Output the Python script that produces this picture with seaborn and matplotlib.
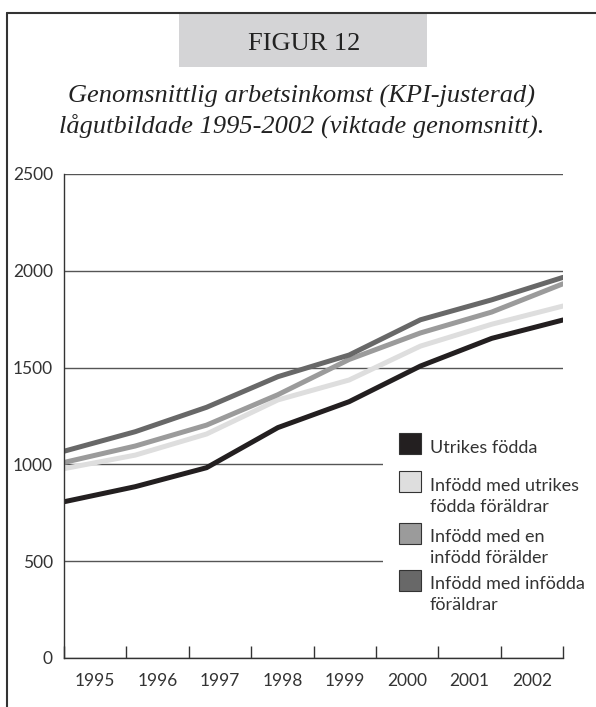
import numpy as np
import pandas as pd
import matplotlib
matplotlib.use("Agg")
import matplotlib.pyplot as plt
import seaborn as sns
from matplotlib.patches import Rectangle
from matplotlib.lines import Line2D

# ---------------- data ----------------
years = ["1995", "1996", "1997", "1998", "1999", "2000", "2001", "2002"]
series_names = [
    "Utrikes födda",
    "Infödd med utrikes\nfödda föräldrar",
    "Infödd med en\ninfödd förälder",
    "Infödd med infödda\nföräldrar",
]
utrikes_fodda = [807, 885, 983, 1190, 1324, 1508, 1651, 1746]
utrikes_foraldrar = [978, 1048, 1157, 1333, 1436, 1611, 1724, 1818]
en_infodd_foralder = [1010, 1095, 1203, 1360, 1542, 1679, 1787, 1933]
infodda_foraldrar = [1068, 1169, 1295, 1453, 1565, 1747, 1850, 1966]
series_colors = ["#231f20", "#dedede", "#9b9b9b", "#686868"]
yticks = [0, 500, 1000, 1500, 2000, 2500]

title_line1 = "Genomsnittlig arbetsinkomst (KPI-justerad)"
title_line2 = "lågutbildade 1995-2002 (viktade genomsnitt)."
header = "FIGUR 12"

values = [utrikes_fodda, utrikes_foraldrar, en_infodd_foralder, infodda_foraldrar]
rows = []
for name, vals in zip(series_names, values):
    for i, v in enumerate(vals):
        rows.append({"pos": i, "year": years[i], "serie": name, "value": v})
df = pd.DataFrame(rows)

# ---------------- figure ----------------
sns.set_theme(style="white")
plt.rcParams["font.family"] = ["Lato", "DejaVu Sans"]
TXT = "#333333"

W, H = 596, 707
fig = plt.figure(figsize=(W / 100, H / 100), dpi=100)


def fx(x):
    return x / W


def fy(y):
    return 1 - y / H


ax_left, ax_right, ax_top, ax_bottom = 64, 563, 174, 658
ax = fig.add_axes([fx(ax_left), fy(ax_bottom), (ax_right - ax_left) / W, (ax_bottom - ax_top) / H])

sns.lineplot(
    data=df, x="pos", y="value", hue="serie", hue_order=series_names,
    palette=dict(zip(series_names, series_colors)), linewidth=3.6,
    legend=False, ax=ax, sort=False,
)

n = len(years)
ax.set_xlim(0, n - 1)
ax.set_ylim(0, 2500)
ax.set_xlabel("")
ax.set_ylabel("")

# y axis
ax.set_yticks(yticks)
ax.set_yticklabels([str(t) for t in yticks])
ax.tick_params(axis="y", length=0, pad=8, labelsize=12.5, labelcolor=TXT)
ax.yaxis.grid(True, color="#555555", linewidth=1.0)
ax.xaxis.grid(False)

# x axis: tick marks at category boundaries, labels in category centres
bounds = np.linspace(0, n - 1, n + 1)
centers = (bounds[:-1] + bounds[1:]) / 2
ax.set_xticks(bounds)
ax.set_xticklabels([""] * len(bounds))
ax.set_xticks(centers, minor=True)
ax.set_xticklabels(years, minor=True)
ax.tick_params(axis="x", which="major", direction="in", length=9, width=1, color="#333333", bottom=True)
ax.tick_params(axis="x", which="minor", length=0, pad=11, labelsize=12.5, labelcolor=TXT, bottom=True)

for s in ["top", "right"]:
    ax.spines[s].set_visible(False)
for s in ["left", "bottom"]:
    ax.spines[s].set_color("#333333")
    ax.spines[s].set_linewidth(1.0)
ax.set_facecolor("white")

# ---------------- legend (manual, white box masking gridlines) ----------------
fig.add_artist(Rectangle((fx(383), fy(622)), (W - 383) / W, (622 - 422) / H,
                         transform=fig.transFigure, facecolor="white", edgecolor="none", zorder=2))
patch_tops = [433, 471, 523, 570]
first_baselines = [453, 491, 542, 589]
line_step = 21
for name, col, ptop, bl in zip(series_names, series_colors, patch_tops, first_baselines):
    fig.add_artist(Rectangle((fx(399), fy(ptop + 21)), 22 / W, 21 / H,
                             transform=fig.transFigure, facecolor=col,
                             edgecolor="#333333", linewidth=0.8, zorder=3))
    for k, line in enumerate(name.split("\n")):
        fig.text(fx(430), fy(bl + k * line_step), line, ha="left", va="baseline",
                 fontsize=13, color=TXT, zorder=3)

# ---------------- header / frame ----------------
fig.add_artist(Rectangle((fx(179), fy(67)), (427 - 179) / W, (67 - 13) / H,
                         transform=fig.transFigure, facecolor="#d4d4d6", edgecolor="none", zorder=1))
fig.add_artist(Line2D([fx(7.5), fx(7.5)], [fy(13), fy(707)], color="#333333", linewidth=1.5, zorder=4))
fig.add_artist(Line2D([fx(7), 1], [fy(13), fy(13)], color="#333333", linewidth=1.5, zorder=4))

fig.text(fx(304), fy(50), header, ha="center", va="baseline", fontsize=19,
         family=["Liberation Serif", "DejaVu Serif"], color="#222222", zorder=5)
fig.text(fx(302), fy(103), title_line1, ha="center", va="baseline", fontsize=19,
         family=["Liberation Serif", "DejaVu Serif"], style="italic", color="#222222")
fig.text(fx(302), fy(133), title_line2, ha="center", va="baseline", fontsize=19,
         family=["Liberation Serif", "DejaVu Serif"], style="italic", color="#222222")

fig.savefig("out.png", dpi=100, facecolor="white")
